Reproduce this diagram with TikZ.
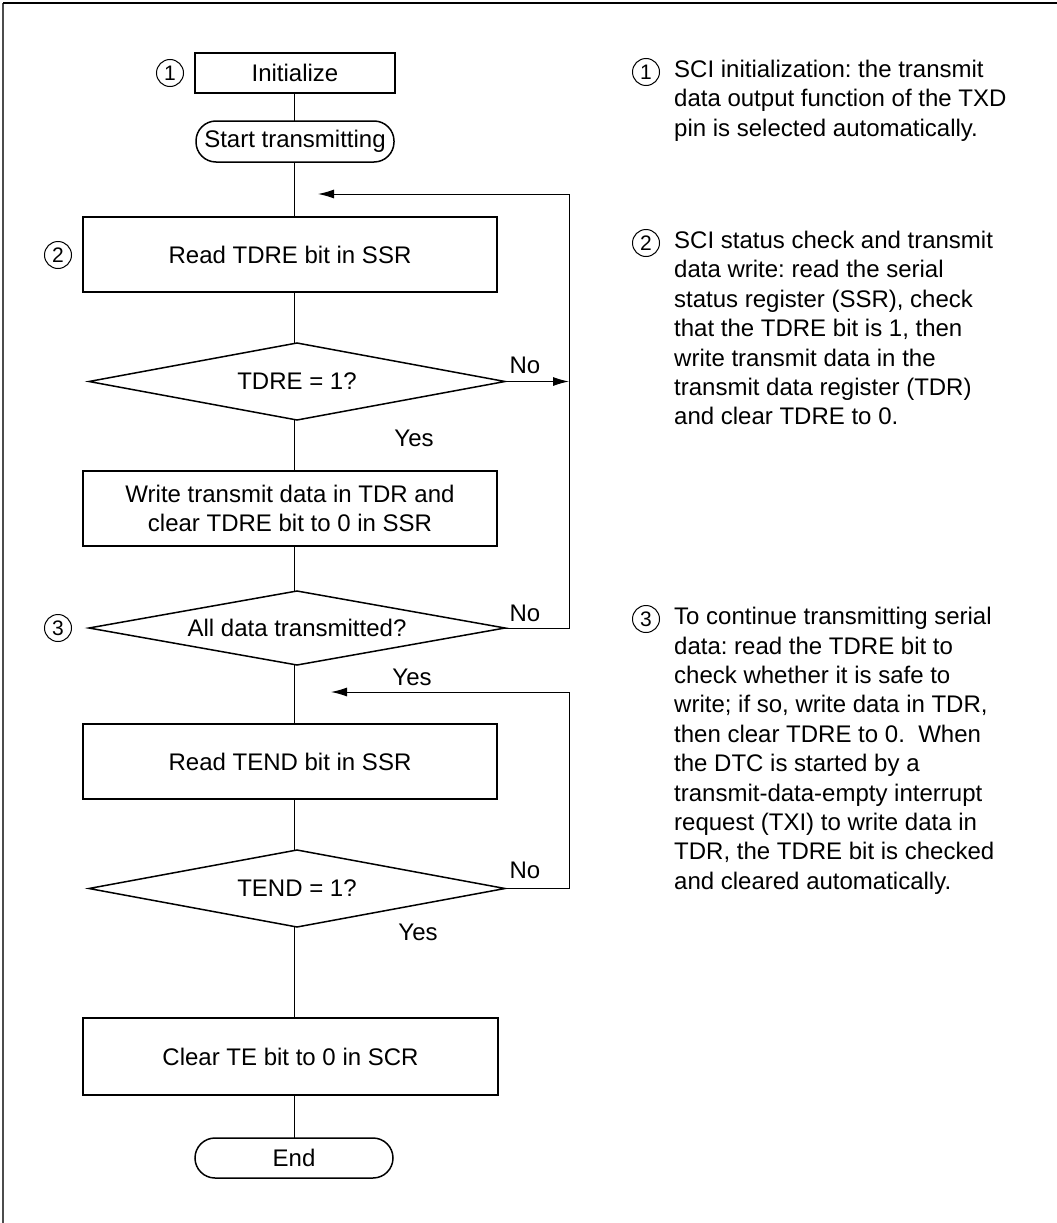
\documentclass[tikz,border=0pt]{standalone}
\usepackage{fontspec}
\setmainfont{Liberation Sans}
\usetikzlibrary{shapes.geometric,arrows.meta}
\frenchspacing
\begin{document}
\begin{tikzpicture}[x=1pt,y=-1pt,
  txt/.style={font=\fontsize{24}{29.4}\selectfont},
  procbox/.style={draw,line width=1.8pt,inner sep=0pt,outer sep=0pt,txt,align=center},
  termbox/.style={draw,line width=1.5pt,rounded corners=20pt,inner sep=0pt,outer sep=0pt,txt},
  decbox/.style={draw,line width=1.5pt,diamond,aspect=5.4,inner sep=0pt,outer sep=0pt,txt},
  conn/.style={line width=1pt},
  arr/.style={line width=1pt,-{Latex[length=16pt,width=9pt]}},
  numc/.style={draw,circle,line width=1pt,minimum size=27pt,inner sep=0pt,font=\fontsize{21}{21}\selectfont},
  lbl/.style={txt,inner sep=0pt}
]
\useasboundingbox (0,0) rectangle (1057,1223);
\draw[line width=2.5pt,black!70] (3,1223) -- (3,3);
\draw[line width=2pt] (3,3) -- (1057,3);

% flowchart nodes
\node[procbox,minimum width=200pt,minimum height=40pt] (init) at (295,73) {Initialize};
\node[termbox,minimum width=198pt,minimum height=41pt] (start) at (295,141.5) {Start transmitting};
\node[procbox,minimum width=414pt,minimum height=75pt] (rdtdre) at (290,254.5) {Read TDRE bit in SSR};
\node[decbox,minimum width=416pt,minimum height=77pt] (d1) at (297,381.5) {TDRE = 1?};
\node[procbox,minimum width=414pt,minimum height=75pt] (wr) at (290,508.5) {Write transmit data in TDR and\\clear TDRE bit to 0 in SSR};
\node[decbox,minimum width=416pt,minimum height=74pt] (d2) at (297,628) {All data transmitted?};
\node[procbox,minimum width=414pt,minimum height=75pt] (rdtend) at (290,761.5) {Read TEND bit in SSR};
\node[decbox,minimum width=416pt,minimum height=77pt] (d3) at (297,888.5) {TEND = 1?};
\node[procbox,minimum width=415pt,minimum height=77pt] (clr) at (290.5,1056.5) {Clear TE bit to 0 in SCR};
\node[termbox,minimum width=198pt,minimum height=40pt] (fin) at (294,1158) {End};

% connector helper coordinates
\coordinate (r1) at (569,194);
\coordinate (r2) at (569,692);
\coordinate (t1) at (318,194);
\coordinate (t2) at (331,692);

% vertical connectors
\draw[conn] (init.south -| 294,0) -- (start.north -| 294,0);
\draw[conn] (start.south -| 294,0) -- (rdtdre.north -| 294,0);
\draw[conn] (rdtdre.south -| 294,0) -- (d1.north -| 294,0);
\draw[conn] (d1.south -| 294,0) -- (wr.north -| 294,0);
\draw[conn] (wr.south -| 294,0) -- (d2.north -| 294,0);
\draw[conn] (d2.south -| 294,0) -- (rdtend.north -| 294,0);
\draw[conn] (rdtend.south -| 294,0) -- (d3.north -| 294,0);
\draw[conn] (d3.south -| 294,0) -- (clr.north -| 294,0);
\draw[conn] (clr.south -| 294,0) -- (fin.north -| 294,0);

% loops
\draw[arr] (d1.east) -- (d1.east -| r1);
\draw[conn] (d2.east) -- (d2.east -| r1) -- (r1);
\draw[arr] (r1) -- (t1);
\draw[conn] (d3.east) -- (d3.east -| r2) -- (r2);
\draw[arr] (r2) -- (t2);

% labels
\node[lbl] (no1) at (525,365) {No};
\node[lbl] (yes1) at (414,438) {Yes};
\node[lbl] (no2) at (525,613) {No};
\node[lbl] (yes2) at (412,677) {Yes};
\node[lbl] (no3) at (525,870) {No};
\node[lbl] (yes3) at (418,932) {Yes};

% step numbers
\node[numc] (n1) at (170,73) {1};
\node[numc] (n2) at (58,255) {2};
\node[numc] (n3) at (58,628) {3};

% notes
\node[numc] (rn1) at (646,72) {1};
\node[txt,anchor=north west,align=left,inner sep=0pt] (note1) at (674,60) {SCI initialization: the transmit\\data output function of the TXD\\pin is selected automatically.};
\node[numc] (rn2) at (646,243) {2};
\node[txt,anchor=north west,align=left,inner sep=0pt] (note2) at (674,231) {SCI status check and transmit\\data write: read the serial\\status register (SSR), check\\that the TDRE bit is 1, then\\write transmit data in the\\transmit data register (TDR)\\and clear TDRE to 0.};
\node[numc] (rn3) at (646,619) {3};
\node[txt,anchor=north west,align=left,inner sep=0pt] (note3) at (674,607) {To continue transmitting serial\\data: read the TDRE bit to\\check whether it is safe to\\write; if so, write data in TDR,\\then clear TDRE to 0.\ \ When\\the DTC is started by a\\transmit-data-empty interrupt\\request (TXI) to write data in\\TDR, the TDRE bit is checked\\and cleared automatically.};
\end{tikzpicture}
\end{document}
